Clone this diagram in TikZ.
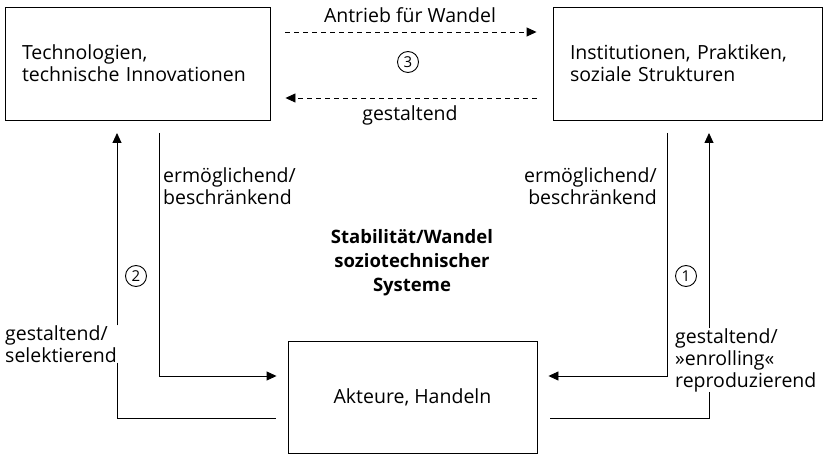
\documentclass[tikz,border=0pt]{standalone}
\usepackage{fontspec}
\setmainfont{Open Sans}
\usetikzlibrary{arrows.meta}

\tikzset{
	kasten/.style={draw, line width=0.9pt, minimum height=113pt, inner xsep=17pt, align=left, font=\fontsize{19.5}{22}\selectfont},
	beschr/.style={align=left, inner sep=0pt, font=\fontsize{19.5}{22}\selectfont},
	pfeil/.style={line width=0.9pt, -{Triangle[length=10pt,width=9pt]}},
	linie/.style={line width=0.9pt},
	strichpfeil/.style={pfeil, dash pattern=on 5pt off 4pt},
	nummer/.style={circle, draw, line width=0.9pt, minimum size=21pt, inner sep=0pt, font=\fontsize{15}{15}\selectfont}
}

\begin{document}
\begin{tikzpicture}[x=1pt, y=-1pt]
	\useasboundingbox (0,0) rectangle (824,454);
	% drei Kaesten
	\node[kasten, text width=231pt] (tech) at (137.5,63.5) {Technologien,\\technische Innovationen};
	\node[kasten, text width=235pt] (inst) at (687.5,63.5) {Institutionen, Praktiken,\\soziale Strukturen};
	\node[draw, line width=0.9pt, minimum width=249pt, minimum height=112pt, font=\fontsize{19.5}{22}\selectfont] (akt) at (412.5,397) {Akteure, Handeln};
	\node[beschr, align=center, font=\fontsize{18.5}{24}\selectfont\bfseries] (titel) at (412,263) {Stabilit\"at/Wandel\\soziotechnischer\\Systeme};
	% oben
	\node[beschr] (antrieb) at (410,15) {Antrieb f\"ur Wandel};
	\node[beschr] (gest) at (410,115) {gestaltend};
	\node[nummer] (n3) at (408,62) {3};
	\draw[strichpfeil, shorten <=15pt, shorten >=16pt] (tech.east |- 0,32) -- (inst.west |- 0,32);
	\draw[strichpfeil, shorten <=16pt, shorten >=15pt] (inst.west |- 0,98) -- (tech.east |- 0,98);
	% links
	\node[beschr, anchor=west] (erm1) at (163,186) {erm\"oglichend/\\beschr\"ankend};
	\node[beschr, anchor=west] (sel) at (5,344) {gestaltend/\\selektierend};
	\node[nummer] (n2) at (136,276) {2};
	\coordinate (lo) at (117,133);
	\coordinate (lr) at (159,133);
	\draw[pfeil] (sel.north -| lo) -- (lo);
	\draw[linie, shorten >=12pt] (sel.south -| lo) |- ([yshift=-21pt]akt.west);
	\draw[pfeil, shorten >=11pt] (lr) |- ([yshift=21pt]akt.west);
	% rechts
	\node[beschr, anchor=east, align=right] (erm2) at (657,186) {erm\"oglichend/\\beschr\"ankend};
	\node[beschr, anchor=west] (enr) at (675,360) {gestaltend/\\»enrolling«\\reproduzierend};
	\node[nummer] (n1) at (686,276) {1};
	\coordinate (ro) at (709,133);
	\coordinate (rl) at (667,133);
	\draw[pfeil] (enr.north -| ro) -- (ro);
	\draw[linie, shorten >=13pt] (enr.south -| ro) |- ([yshift=-21pt]akt.east);
	\draw[pfeil, shorten >=11pt] (rl) |- ([yshift=21pt]akt.east);
\end{tikzpicture}
\end{document}
